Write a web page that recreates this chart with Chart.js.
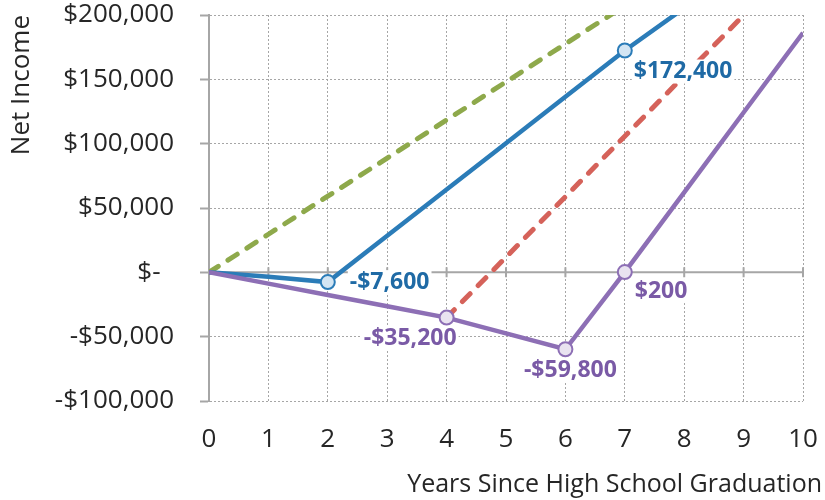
<!DOCTYPE html>
<html>
<head>
<meta charset="utf-8">
<script src="https://cdn.jsdelivr.net/npm/chart.js@4.4.1/dist/chart.umd.min.js"></script>
<style>
  html, body { margin: 0; padding: 0; background: #fff; }
</style>
</head>
<body>
<canvas id="myChart" width="825" height="500"></canvas>
<script>
  // years since graduation and net income per path
  var years = [0, 1, 2, 3, 4, 5, 6, 7, 8, 9, 10];
  var greenNet = [0, 29600, 59200, 88800, 118400, 148000, 177600, 207200, 236800, 266400, 296000];
  var redNet = [null, null, null, null, -35200, 11800, 58800, 105800, 152800, 199800, 246800];
  var blueNet = [0, -3400, -7600, 28400, 64400, 100400, 136400, 172400, 205400, 238400, 271400];
  var purpleNet = [0, -8800, -17600, -26400, -35200, -47500, -59800, 200, 62200, 124200, 186200];
  var blueMarkers = [2, 7];
  var purpleMarkers = [4, 6, 7];
  var yTicks = [-100000, -50000, 0, 50000, 100000, 150000, 200000];
  var xTitle = "Years Since High School Graduation";
  var yTitle = "Net Income";

  var FONT = '"Open Sans", sans-serif';
  var GRID = '#a6a6a6';

  function money(v) {
    return (v < 0 ? '-' : '') + '$' + Math.abs(v).toLocaleString('en-US');
  }
  function pts(vals) {
    return years.map(function (x, i) { return { x: x, y: vals[i] }; });
  }
  function radii(list) {
    return function (c) { return list.indexOf(c.dataIndex) >= 0 ? 7 : 0; };
  }

  // which points get a value label, and where it sits
  var labelSpots = [
    { ds: 1, i: 7, dx: 9, dy: 21, align: 'left', color: '#1f6aa5' },
    { ds: 1, i: 2, dx: 22, dy: 0, align: 'left', color: '#1f6aa5' },
    { ds: 0, i: 4, dx: 10, dy: 21, align: 'right', color: '#7a5aa6' },
    { ds: 0, i: 6, dx: 5, dy: 21, align: 'center', color: '#7a5aa6' },
    { ds: 0, i: 7, dx: 10, dy: 19, align: 'left', color: '#7a5aa6' }
  ];

  const zeroAxis = {
    id: 'zeroAxis',
    beforeDatasetsDraw(chart) {
      const ctx = chart.ctx, x = chart.scales.x, y = chart.scales.y;
      const y0 = y.getPixelForValue(0);
      ctx.save();
      ctx.strokeStyle = GRID;
      ctx.lineWidth = 2;
      ctx.beginPath();
      ctx.moveTo(x.left, y0);
      ctx.lineTo(x.right, y0);
      years.forEach(function (v) {
        const px = x.getPixelForValue(v);
        ctx.moveTo(px, y0 - 5);
        ctx.lineTo(px, y0 + 5);
      });
      ctx.stroke();
      ctx.restore();
    }
  };

  const pointLabels = {
    id: 'pointLabels',
    afterDatasetsDraw(chart) {
      const ctx = chart.ctx;
      ctx.save();
      ctx.font = 'bold 23px ' + FONT;
      ctx.textBaseline = 'middle';
      ctx.textAlign = 'left';
      labelSpots.forEach(function (l) {
        const pt = chart.getDatasetMeta(l.ds).data[l.i];
        const text = money(chart.data.datasets[l.ds].data[l.i].y);
        const w = ctx.measureText(text).width;
        const x = pt.x + l.dx, y = pt.y + l.dy;
        const left = l.align === 'left' ? x : (l.align === 'right' ? x - w : x - w / 2);
        ctx.fillStyle = '#fff';
        ctx.fillRect(left - 2, y - 12, w + 4, 24);
        ctx.fillStyle = l.color;
        ctx.fillText(text, left, y);
      });
      ctx.restore();
    }
  };

  const xAxisTitle = {
    id: 'xAxisTitle',
    afterDraw(chart) {
      const ctx = chart.ctx;
      ctx.save();
      ctx.font = '25px ' + FONT;
      ctx.fillStyle = '#262626';
      ctx.textAlign = 'right';
      ctx.textBaseline = 'middle';
      ctx.fillText(xTitle, 822, 485);
      ctx.restore();
    }
  };

  Chart.defaults.font.family = FONT;
  Chart.defaults.color = '#262626';

  new Chart("myChart", {
    type: "line",
    data: {
      datasets: [{
        data: pts(purpleNet),
        borderColor: '#8d6fb5',
        borderWidth: 4.5,
        pointRadius: radii(purpleMarkers),
        pointBackgroundColor: '#e9e3f0',
        pointBorderColor: '#8d6fb5',
        pointBorderWidth: 2
      }, {
        data: pts(blueNet),
        borderColor: '#2b7cb8',
        borderWidth: 4.5,
        pointRadius: radii(blueMarkers),
        pointBackgroundColor: '#d3e5f3',
        pointBorderColor: '#2b7cb8',
        pointBorderWidth: 2
      }, {
        data: pts(redNet),
        borderColor: '#d5625a',
        borderWidth: 5,
        borderCapStyle: 'round',
        borderDash: [11, 11.5],
        pointRadius: 0
      }, {
        data: pts(greenNet),
        borderColor: '#8ea94b',
        borderWidth: 5,
        borderCapStyle: 'round',
        borderDash: [11, 11.5],
        pointRadius: 0
      }]
    },
    options: {
      responsive: false,
      animation: false,
      events: [],
      layout: { padding: { top: 15, right: 22, left: 0, bottom: 0 } },
      plugins: {
        legend: { display: false },
        tooltip: { enabled: false }
      },
      elements: { line: { tension: 0 } },
      scales: {
        x: {
          type: 'linear',
          min: 0,
          max: 10,
          afterFit: function (s) {
            s.height = 99;
            s.paddingLeft = 8;
            s.paddingRight = 14;
          },
          ticks: { stepSize: 1, padding: 26, font: { size: 26, lineHeight: 1 } },
          grid: { color: GRID, lineWidth: 1, drawTicks: false },
          border: { display: false, dash: [2, 2] }
        },
        y: {
          min: -100000,
          max: 200000,
          afterFit: function (s) {
            s.width = 209;
            s.paddingTop = 13;
            s.paddingBottom = 13;
          },
          afterBuildTicks: function (s) { s.ticks = yTicks.map(function (v) { return { value: v }; }); },
          ticks: {
            padding: 26,
            font: { size: 26, lineHeight: 1 },
            callback: function (v) { return v === 0 ? '$-  ' : money(v); }
          },
          grid: { color: GRID, lineWidth: 1, tickLength: 9, tickWidth: 2, tickColor: GRID },
          border: { display: true, color: GRID, width: 2, dash: [2, 2] },
          title: {
            display: true,
            text: yTitle,
            align: 'end',
            font: { size: 26, lineHeight: 1 },
            padding: { top: 9, bottom: 0 }
          }
        }
      }
    },
    plugins: [zeroAxis, pointLabels, xAxisTitle]
  });
</script>
</body>
</html>
